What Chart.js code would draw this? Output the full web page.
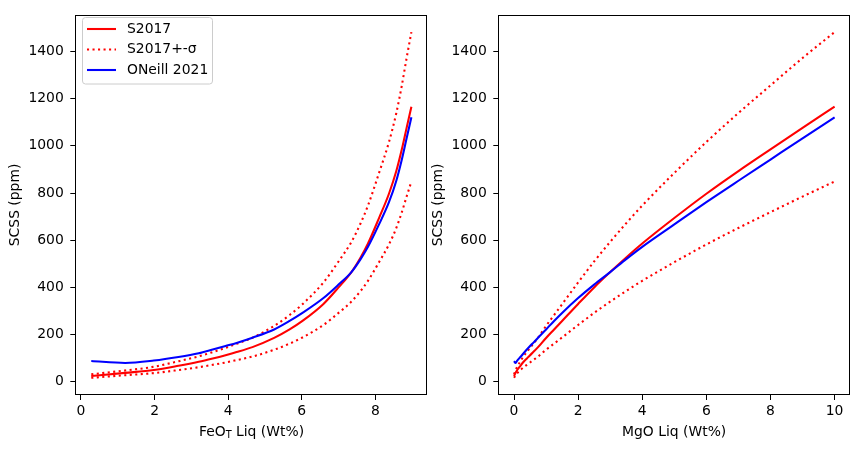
<!DOCTYPE html>
<html>
<head>
<meta charset="utf-8">
<script src="https://cdn.jsdelivr.net/npm/chart.js@4.4.0/dist/chart.umd.min.js"></script>
<style>
  html, body { margin: 0; padding: 0; background: #fff; }
  #wrap { position: relative; width: 859px; height: 452px; }
  canvas { position: absolute; top: 0; }
  #c1 { left: 0; }
  #c2 { left: 430px; }
</style>
</head>
<body>
<div id="wrap">
  <canvas id="c1" width="430" height="452"></canvas>
  <canvas id="c2" width="429" height="452"></canvas>
</div>
<script>
// sample points along the liquid line of descent
const mgoLiq = [0, 0.05, 0.1, 0.2, 0.3, 0.4, 0.5, 0.6, 0.75, 1, 1.25, 1.5, 2, 2.5, 3, 3.5, 4, 5, 6, 7, 8, 9, 10];
const feoLiq = [0.28, 1.2, 1.98, 2.65, 3.2, 3.58, 3.93, 4.23, 4.66, 5.25, 5.67, 6.02, 6.59, 7.0, 7.35, 7.6, 7.8, 8.1, 8.37, 8.57, 8.72, 8.85, 8.98];
// SCSS (ppm)
const s2017    = [25, 38, 50, 68, 85, 99, 113, 126, 147, 186, 222, 258, 330, 400, 465, 527, 586, 694, 797, 893, 985, 1076, 1166];
const s2017Hi  = [32, 48, 64, 87, 108, 126, 144, 161, 187, 237, 283, 329, 421, 510, 593, 672, 747, 885, 1016, 1139, 1256, 1372, 1482];
const s2017Lo  = [17, 28, 37, 50, 62, 72, 82, 92, 107, 136, 162, 188, 241, 292, 340, 385, 428, 507, 582, 652, 719, 785, 849];
const oneill21 = [88, 80, 90, 105, 121, 137, 152, 165, 187, 222, 258, 292, 355, 412, 465, 520, 572, 667, 761, 852, 942, 1032, 1121];

const yTicks = [0, 200, 400, 600, 800, 1000, 1200, 1400];
const feoTicks = [0, 2, 4, 6, 8];
const mgoTicks = [0, 2, 4, 6, 8, 10];

const FONT = 'DejaVu Sans';
const FS = 13.9;
const LW = 2.08;
const DOT = [2.08, 3.43];

function pts(xs, ys) { return xs.map((x, i) => ({ x: x, y: ys[i] })); }

// frame, axis titles and legend
const decor = {
  id: 'decor',
  afterDraw(chart, args, o) {
    const ctx = chart.ctx, a = chart.chartArea;
    ctx.save();
    ctx.strokeStyle = '#000';
    ctx.lineWidth = 1;
    ctx.strokeRect(Math.round(a.left) + 0.5, Math.round(a.top) + 0.5,
                   Math.round(a.right - a.left) - 1, Math.round(a.bottom - a.top) - 1);

    ctx.fillStyle = '#000';
    ctx.font = FS + 'px "' + FONT + '"';
    ctx.textBaseline = 'middle';
    // x title (with optional subscript)
    const cx = (a.left + a.right) / 2, ty = 432;
    const parts = o.xTitle;
    const small = (FS * 0.7) + 'px "' + FONT + '"';
    let w = 0;
    parts.forEach(p => { ctx.font = p.sub ? small : FS + 'px "' + FONT + '"'; w += ctx.measureText(p.t).width; });
    let x = cx - w / 2;
    ctx.textAlign = 'left';
    parts.forEach(p => {
      ctx.font = p.sub ? small : FS + 'px "' + FONT + '"';
      ctx.fillText(p.t, x, p.sub ? ty + 3 : ty);
      x += ctx.measureText(p.t).width;
    });
    // y title
    ctx.font = FS + 'px "' + FONT + '"';
    ctx.save();
    ctx.translate(o.yTitleX, (a.top + a.bottom) / 2);
    ctx.rotate(-Math.PI / 2);
    ctx.textAlign = 'center';
    ctx.fillText('SCSS (ppm)', 0, 0);
    ctx.restore();

    if (o.legend) {
      const bx = 82.5, by = 17.5, bw = 130, bh = 66.5, r = 3;
      ctx.beginPath();
      ctx.moveTo(bx + r, by);
      ctx.arcTo(bx + bw, by, bx + bw, by + bh, r);
      ctx.arcTo(bx + bw, by + bh, bx, by + bh, r);
      ctx.arcTo(bx, by + bh, bx, by, r);
      ctx.arcTo(bx, by, bx + bw, by, r);
      ctx.closePath();
      ctx.fillStyle = 'rgba(255,255,255,0.8)';
      ctx.fill();
      ctx.strokeStyle = '#cccccc';
      ctx.lineWidth = 1;
      ctx.stroke();
      const rows = [
        { t: 'S2017', c: '#ff0000', d: [], y: 29 },
        { t: 'S2017+-σ', c: '#ff0000', d: DOT, y: 49.5 },
        { t: 'ONeill 2021', c: '#0000ff', d: [], y: 70 }
      ];
      rows.forEach(rw => {
        ctx.beginPath();
        ctx.setLineDash(rw.d);
        ctx.lineWidth = LW;
        ctx.strokeStyle = rw.c;
        ctx.moveTo(87, rw.y);
        ctx.lineTo(116, rw.y);
        ctx.stroke();
        ctx.setLineDash([]);
        ctx.fillStyle = '#000';
        ctx.textAlign = 'left';
        ctx.fillText(rw.t, 127, rw.y);
      });
    }
    ctx.restore();
  }
};

function makeChart(id, xs, xTicks, xMin, xMax, padRight, yWidth, xTitle, yTitleX, legend) {
  const tickStyle = { display: true, drawOnChartArea: false, drawTicks: true, tickLength: 5, color: '#000', lineWidth: 1 };
  return new Chart(document.getElementById(id), {
    type: 'line',
    data: {
      datasets: [
        { label: 'ONeill 2021', data: pts(xs, oneill21), borderColor: '#0000ff', borderWidth: LW, order: 0 },
        { label: 'S2017', data: pts(xs, s2017), borderColor: '#ff0000', borderWidth: LW, order: 1 },
        { label: 'S2017+-σ', data: pts(xs, s2017Hi), borderColor: '#ff0000', borderWidth: LW, borderDash: DOT, order: 2 },
        { label: 'S2017-σ', data: pts(xs, s2017Lo), borderColor: '#ff0000', borderWidth: LW, borderDash: DOT, order: 3 }
      ]
    },
    options: {
      responsive: false,
      animation: false,
      devicePixelRatio: 1,
      elements: {
        point: { radius: 0 },
        line: { cubicInterpolationMode: 'monotone', fill: false, borderCapStyle: 'butt' }
      },
      layout: { padding: { left: 0, right: padRight, top: 10, bottom: 0 } },
      plugins: { legend: { display: false }, tooltip: { enabled: false }, decor: { xTitle: xTitle, yTitleX: yTitleX, legend: legend } },
      scales: {
        x: {
          type: 'linear', min: xMin, max: xMax,
          grid: tickStyle, border: { display: false },
          ticks: { color: '#000', font: { family: FONT, size: FS }, padding: 3, maxRotation: 0, callback: v => String(v) },
          afterBuildTicks: s => { s.ticks = xTicks.map(v => ({ value: v })); },
          afterFit: s => { s.height = 57; }
        },
        y: {
          type: 'linear', min: -55.8, max: 1555,
          grid: tickStyle, border: { display: false },
          ticks: { color: '#000', font: { family: FONT, size: FS }, padding: 6.5, callback: v => String(v) },
          afterBuildTicks: s => { s.ticks = yTicks.map(v => ({ value: v })); },
          afterFit: s => { s.width = yWidth; }
        }
      }
    },
    plugins: [decor]
  });
}

makeChart('c1', feoLiq, feoTicks, -0.154, 9.423, 2.3, 75.3,
  [{ t: 'FeO' }, { t: 'T', sub: true }, { t: ' Liq (Wt%)' }], 15, true);
makeChart('c2', mgoLiq, mgoTicks, -0.49, 10.48, 9, 68.3,
  [{ t: 'MgO Liq (Wt%)' }], 8.3, false);
</script>
</body>
</html>
